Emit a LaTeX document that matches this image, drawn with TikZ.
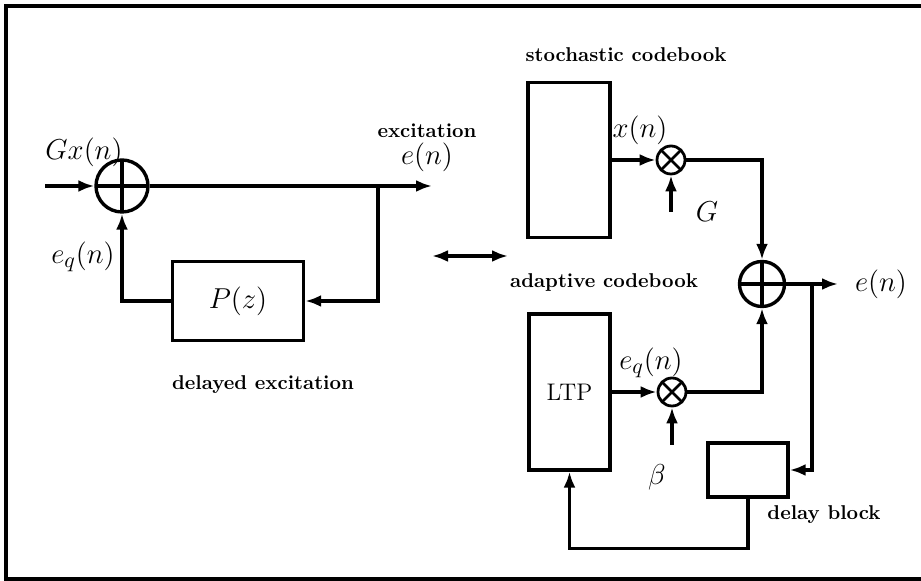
\documentclass[tikz,border=0pt]{standalone}
\usetikzlibrary{arrows.meta, positioning}
\tikzset{
  blk/.style={draw, line width=1.7pt, inner sep=0pt},
  sumnode/.style={circle, draw, line width=1.7pt, inner sep=0pt, minimum size=#1,
    path picture={\draw[line width=1.7pt]
      (path picture bounding box.north) -- (path picture bounding box.south)
      (path picture bounding box.west) -- (path picture bounding box.east);}},
  mulnode/.style={circle, draw, line width=1.4pt, inner sep=0pt, minimum size=14pt,
    path picture={\draw[line width=1.3pt]
      (path picture bounding box.north west) -- (path picture bounding box.south east)
      (path picture bounding box.north east) -- (path picture bounding box.south west);}},
  fl/.style={-{Latex[length=8pt,width=6pt]}, line width=1.7pt},
  dfl/.style={{Latex[length=8pt,width=6pt]}-{Latex[length=8pt,width=6pt]}, line width=1.7pt},
  lbl/.style={font=\bfseries, inner sep=1pt},
  mth/.style={font=\fontsize{15}{18}\selectfont, inner sep=1pt},
}

\begin{document}
\begin{tikzpicture}[x=0.5pt, y=-0.5pt]
  \useasboundingbox (0,0) rectangle (921,581);
  \draw[line width=1.6pt] (921,6) -- (6,6) -- (6,579) -- (921,579);

  % excitation loop
  \node[sumnode=26pt] (s1) at (122,186) {};
  \node[blk, minimum width=65.5pt, minimum height=39.5pt, mth] (pz) at (238,301) {$P(z)$};
  \coordinate (in) at (45,186);
  \coordinate (out) at (432,186);
  \coordinate (br) at (378,186);
  \draw[fl] (in) -- (s1);
  \draw[fl] (s1) -- (out);
  \draw[fl] (br) |- (pz);
  \draw[fl] (pz) -| (s1);
  \node[mth] (gx) at (84,152) {$Gx(n)$};
  \node[mth] (eq) at (83,257) {$e_q(n)$};
  \node[lbl] (exc) at (427,131) {excitation};
  \node[mth, below=0pt of exc] (en) {$e(n)$};
  \node[lbl] (dex) at (263,385) {delayed excitation};

  % equivalence
  \coordinate (dl) at (432,256);
  \coordinate (dr) at (508,256);
  \draw[dfl] (dl) -- (dr);

  % stochastic codebook
  \node[blk, minimum width=41pt, minimum height=77.5pt] (sc) at (569,160) {};
  \node[lbl] (sct) at (626,55) {stochastic codebook};
  \node[mulnode] (m1) at (671,160) {};
  \draw[fl] (sc) -- (m1);
  \node[mth] (xn) at (640,130) {$x(n)$};
  \coordinate (gin) at (671,212);
  \draw[fl] (gin) -- (m1);
  \node[mth] (g) at (707,212) {$G$};

  % output sum
  \node[sumnode=22.5pt] (s2) at (762,284) {};
  \draw[fl] (m1) -| (s2);
  \coordinate (eo) at (838,284);
  \draw[fl] (s2) -- (eo);
  \node[mth] (eout) at (881,284) {$e(n)$};
  \node[lbl] (act) at (604,283) {adaptive codebook};

  % adaptive codebook
  \node[blk, minimum width=40.5pt, minimum height=78pt, font=\large] (ltp) at (569.5,392) {LTP};
  \node[mulnode] (m2) at (672,392) {};
  \draw[fl] (ltp) -- (m2);
  \node[mth] (eq2) at (651,363) {$e_q(n)$};
  \coordinate (bin) at (672,445);
  \draw[fl] (bin) -- (m2);
  \node[mth] (beta) at (657,477) {$\beta$};
  \draw[fl] (m2) -| (s2);

  % delay feedback
  \node[blk, minimum width=40pt, minimum height=27pt] (dly) at (748,470) {};
  \node[lbl] (dlt) at (824,515) {delay block};
  \coordinate (br2) at (812,284);
  \draw[fl] (br2) |- (dly);
  \draw[fl] (dly.south) -- ++(0,50) -| (ltp.south);
\end{tikzpicture}
\end{document}
